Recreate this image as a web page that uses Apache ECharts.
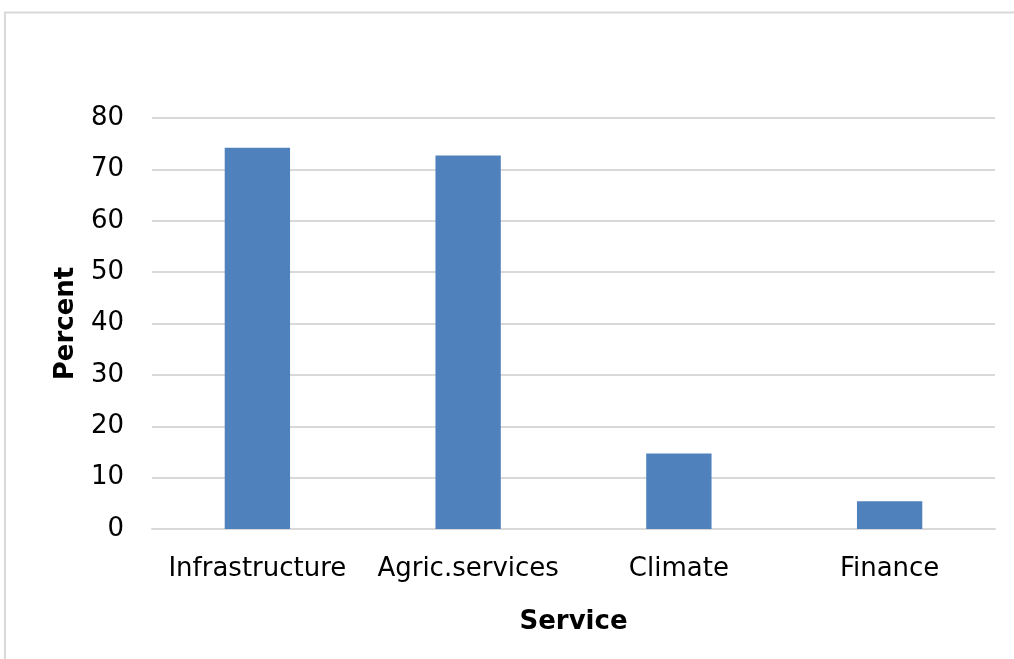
<!DOCTYPE html>
<html>
<head>
<meta charset="utf-8">
<script src="https://cdn.jsdelivr.net/npm/echarts@6/dist/echarts.min.js"></script>
<style>
  html, body { margin: 0; padding: 0; background: #fff; }
  #chart { width: 1014px; height: 659px; }
</style>
</head>
<body>
<div id="chart"></div>
<script>
// Share of respondents per service type
const categories = ['Infrastructure', 'Agric.services', 'Climate', 'Finance'];
const percentValues = [74.2, 72.7, 14.7, 5.4];
const yTicks = { min: 0, max: 80, interval: 10 };

const FONT = 'DejaVu Sans';
const chart = echarts.init(document.getElementById('chart'));

chart.setOption({
  backgroundColor: '#ffffff',
  animation: false,
  graphic: [{
    // chart-area frame: left and top edges
    type: 'polyline',
    shape: { points: [[5, 700], [5, 12.5], [1100, 12.5]] },
    style: { fill: 'none', stroke: '#d9d9d9', lineWidth: 2 },
    silent: true
  }],
  grid: { left: 152, right: 19, top: 118, bottom: 130 },
  xAxis: {
    type: 'category',
    data: categories,
    name: 'Service',
    nameLocation: 'middle',
    nameGap: 80,
    nameTextStyle: { fontFamily: FONT, fontSize: 26, fontWeight: 'bold', color: '#000' },
    axisLine: { lineStyle: { color: '#d9d9d9', width: 2 } },
    axisTick: { show: false },
    axisLabel: { fontFamily: FONT, fontSize: 26, color: '#000', margin: 27, interval: 0 }
  },
  yAxis: {
    type: 'value',
    min: yTicks.min,
    max: yTicks.max,
    interval: yTicks.interval,
    name: 'Percent',
    nameLocation: 'middle',
    nameGap: 73,
    nameTextStyle: { fontFamily: FONT, fontSize: 26, fontWeight: 'bold', color: '#000' },
    axisLine: { show: false },
    axisTick: { show: false },
    axisLabel: { fontFamily: FONT, fontSize: 26, color: '#000', margin: 28, padding: [5, 0, 0, 0] },
    splitLine: { lineStyle: { color: '#d9d9d9', width: 2 } }
  },
  series: [{
    type: 'bar',
    data: percentValues,
    barWidth: '31%',
    itemStyle: { color: '#4f81bd' }
  }]
});
</script>
</body>
</html>
